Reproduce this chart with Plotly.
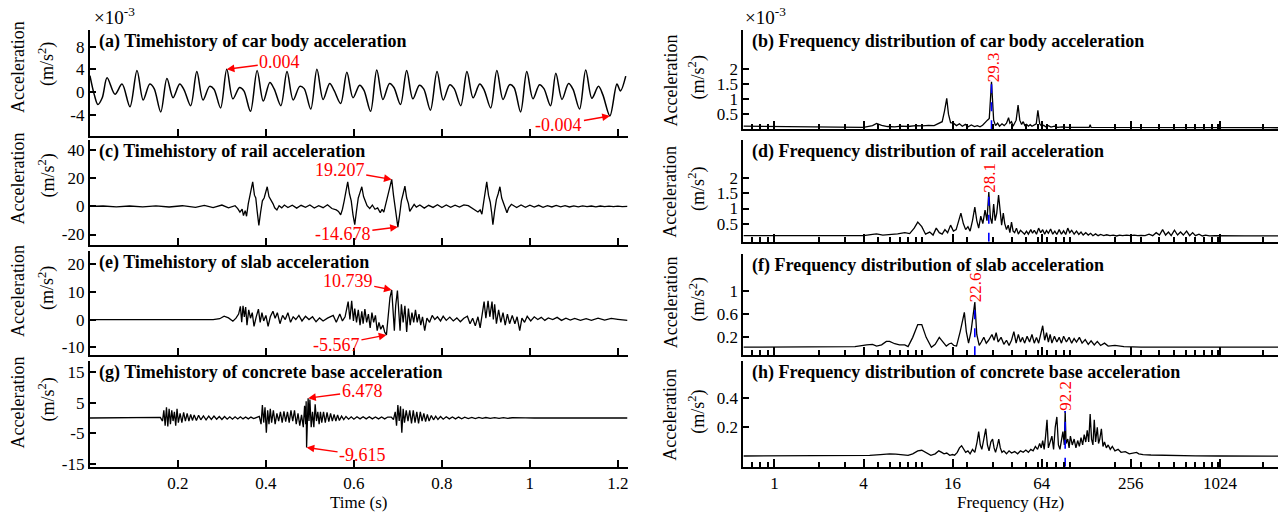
import math
import plotly.graph_objects as go

W, H = 1288, 520
FONT = "Times New Roman, Liberation Serif, Tinos, DejaVu Serif, serif"

# ---------------- data ----------------
# (a) car body acceleration, units of 1e-3 m/s^2
car_time_history = [
    (0.000, 2.9), (0.010, -0.5), (0.018, -2.2), (0.028, -1.0), (0.039, 2.5), (0.057, -0.4), (0.073, 1.4), (0.091, -2.6),
    (0.107, 3.8), (0.121, -1.4), (0.136, 1.4), (0.146, 0.6), (0.161, -3.5),
    (0.175, 2.4), (0.189, -1.0), (0.204, 1.4), (0.214, 0.4), (0.229, -2.4),
    (0.243, 3.6), (0.257, -1.4), (0.272, 1.0), (0.282, 0.5), (0.297, -2.8),
    (0.311, 4.0), (0.325, -1.2), (0.340, 0.8), (0.350, 0.2), (0.365, -3.4),
    (0.380, 3.8), (0.394, -1.6), (0.409, 1.7), (0.419, 0.5), (0.434, -2.4),
    (0.448, 3.6), (0.462, -1.4), (0.477, 1.0), (0.487, 0.6), (0.502, -3.0),
    (0.516, 4.0), (0.530, -1.3), (0.545, 1.5), (0.555, 0.3), (0.570, -2.0),
    (0.584, 3.5), (0.598, -1.0), (0.613, 1.2), (0.623, 0.3), (0.638, -3.4),
    (0.652, 3.9), (0.666, -1.3), (0.681, 1.5), (0.691, 0.8), (0.706, -2.2),
    (0.720, 3.8), (0.734, -1.2), (0.749, 1.2), (0.759, 0.5), (0.774, -3.2),
    (0.789, 3.6), (0.803, -1.4), (0.818, 1.3), (0.828, 0.6), (0.843, -2.4),
    (0.857, 3.6), (0.871, -1.0), (0.886, 1.4), (0.896, 0.4), (0.911, -2.8),
    (0.925, 3.8), (0.939, -1.3), (0.954, 1.3), (0.964, 0.8), (0.979, -3.5),
    (0.993, 3.6), (1.007, -1.2), (1.022, 1.3), (1.032, 0.6), (1.047, -2.4),
    (1.059, 3.3), (1.073, -1.3), (1.088, 1.5), (1.098, 0.5), (1.113, -3.0),
    (1.127, 3.9), (1.141, -1.1), (1.156, 1.0), (1.166, -0.5), (1.182, -4.2), (1.198, 1.4), (1.206, 0.2), (1.218, 2.8),
]

# (c) rail acceleration, m/s^2
rail_time_history = [
    (0.000, 0.0), (0.030, 0.3), (0.060, -0.3), (0.090, 0.3), (0.120, -0.3), (0.150, 0.4), (0.180, -0.4),
    (0.210, 0.5), (0.240, -0.6), (0.260, 0.8), (0.280, -0.8), (0.300, 1.0), (0.315, -1.0),
    (0.330, 0.5), (0.336, -1.5), (0.341, -4.0), (0.346, -2.0), (0.349, -6.5), (0.353, -3.0), (0.356, -7.0),
    (0.360, 2.0), (0.365, 10.0), (0.370, 17.5), (0.374, 8.0), (0.377, 6.0), (0.380, -3.0), (0.384, -13.5),
    (0.388, -4.0), (0.392, 4.0), (0.396, 6.0), (0.400, 12.0), (0.403, 14.0), (0.407, 7.0), (0.411, 5.0),
    (0.416, 2.0), (0.420, -1.0), (0.425, -2.5), (0.430, 0.5), (0.436, -1.0), (0.442, 1.0),
    (0.450, -0.8), (0.460, 0.9), (0.470, -1.2), (0.480, 0.8), (0.490, -0.6), (0.500, 1.0), (0.510, -1.1),
    (0.520, 0.5), (0.530, -0.9), (0.540, 1.2), (0.550, -1.5), (0.560, -2.5),
    (0.565, -3.5), (0.570, -6.0), (0.574, -2.0), (0.578, 4.0), (0.582, 11.0), (0.586, 17.5), (0.590, 9.0),
    (0.594, 4.0), (0.598, -6.0), (0.602, -13.0), (0.606, -3.0), (0.610, 6.0), (0.614, 10.0), (0.618, 14.0),
    (0.622, 7.0), (0.626, 3.0), (0.630, 0.5), (0.636, -1.5), (0.642, 1.0), (0.648, -2.0), (0.654, -1.0),
    (0.660, -4.5), (0.664, -2.0), (0.668, -4.0), (0.672, 1.0), (0.676, 6.0), (0.680, 12.0), (0.686, 19.207),
    (0.690, 8.0), (0.694, -2.0), (0.700, -14.678), (0.704, -6.0), (0.708, 4.0), (0.712, 9.0), (0.716, 14.5),
    (0.720, 6.0), (0.724, 2.0), (0.727, -3.5), (0.732, -1.0), (0.737, 1.5), (0.742, -0.5),
    (0.750, 1.0), (0.760, -1.2), (0.770, 0.8), (0.780, -0.7), (0.790, 1.2), (0.800, -0.8), (0.810, 1.0),
    (0.820, -0.6), (0.830, 0.9), (0.840, -0.5), (0.850, 1.1), (0.860, 0.5), (0.870, -1.5),
    (0.875, -2.0), (0.882, -4.0), (0.887, -2.5), (0.891, -5.5), (0.895, 3.0), (0.899, 10.0), (0.902, 17.5),
    (0.906, 8.0), (0.910, 3.0), (0.913, -4.0), (0.916, -13.0), (0.920, -3.0), (0.924, 5.0), (0.928, 9.0),
    (0.932, 14.0), (0.936, 6.0), (0.940, 2.0), (0.944, -2.0), (0.948, -4.5), (0.952, -1.0), (0.958, 1.5),
    (0.970, -0.8), (0.980, 1.0), (0.990, -0.6), (1.000, 0.9), (1.010, -0.5), (1.020, 0.8), (1.030, -0.6),
    (1.040, 0.6), (1.050, -0.4), (1.060, 0.7), (1.070, -0.3), (1.080, 0.5), (1.090, -0.4), (1.100, 0.4),
    (1.110, -0.3), (1.120, 0.4), (1.130, -0.2), (1.140, 0.3), (1.150, -0.3), (1.160, 0.3), (1.170, -0.2),
    (1.180, 0.2), (1.190, -0.2), (1.200, 0.2), (1.210, -0.1), (1.222, 0.1),
]

# (e) slab acceleration, m/s^2
slab_time_history = [
    (0.000, 0.0), (0.100, 0.0), (0.200, 0.0), (0.280, 0.0), (0.295, 0.3), (0.305, 1.2), (0.315, 0.6),
    (0.325, -0.6), (0.332, 0.5), (0.338, 2.0), (0.342, 4.8), (0.345, -1.0), (0.348, 5.0), (0.351, 1.0),
    (0.354, 4.5), (0.357, -2.0), (0.361, 3.5), (0.365, 0.5), (0.369, 2.5), (0.373, -2.5), (0.378, 1.0),
    (0.383, 3.8), (0.387, -1.0), (0.391, 2.5), (0.395, -0.5), (0.400, 1.5), (0.405, -2.5), (0.410, 1.0),
    (0.416, 3.0), (0.421, 0.5), (0.426, 2.5), (0.432, -1.5), (0.438, 1.5), (0.444, 0.0), (0.450, 2.5),
    (0.456, -1.0), (0.462, 1.0), (0.468, 0.0), (0.475, 1.5), (0.482, -0.5), (0.490, 1.2), (0.498, 0.0),
    (0.506, 1.0), (0.514, -0.8), (0.522, 0.6), (0.530, -0.5), (0.540, 0.5), (0.553, 1.5), (0.560, -1.0),
    (0.568, 2.0), (0.574, -0.5), (0.580, 1.0), (0.587, 6.5), (0.591, 0.0), (0.595, 6.8), (0.599, -0.5),
    (0.602, 4.0), (0.606, -1.0), (0.610, 3.5), (0.614, -2.0), (0.618, 3.0), (0.621, -1.5), (0.625, 3.8),
    (0.629, -1.0), (0.633, 2.0), (0.637, -3.0), (0.641, 2.5), (0.645, -1.0), (0.649, 1.5), (0.653, -4.0),
    (0.657, -1.0), (0.661, -3.5), (0.666, -2.0), (0.670, -4.5), (0.674, -5.567), (0.678, 2.0), (0.682, 8.0),
    (0.686, 10.739), (0.689, 2.0), (0.692, -4.0), (0.695, 5.0), (0.699, 10.5), (0.702, 3.0), (0.705, -4.0),
    (0.708, 5.5), (0.712, -1.0), (0.716, 5.0), (0.720, -4.5), (0.724, 4.0), (0.728, -2.0), (0.732, 2.5),
    (0.736, -1.0), (0.740, 3.5), (0.744, -1.0), (0.748, 2.0), (0.752, -2.0), (0.756, 1.0), (0.761, -4.0),
    (0.766, 0.5), (0.772, -1.0), (0.778, 1.5), (0.784, 0.0), (0.790, 1.0), (0.797, -0.5), (0.803, 1.2),
    (0.810, -0.3), (0.818, 0.9), (0.826, -0.5), (0.834, 0.6), (0.842, -0.8), (0.850, 0.5), (0.858, 1.2),
    (0.864, -1.5), (0.870, 0.5), (0.876, -2.3), (0.882, 1.0), (0.887, -3.0), (0.891, 1.0), (0.896, 6.5),
    (0.900, 0.5), (0.905, 6.8), (0.909, 1.0), (0.914, 6.5), (0.917, 0.0), (0.920, 5.5), (0.924, -1.5),
    (0.929, 3.5), (0.934, -1.0), (0.939, 2.5), (0.944, -2.0), (0.949, 2.0), (0.954, -1.5), (0.960, 1.5),
    (0.966, -1.5), (0.971, 1.0), (0.977, -4.0), (0.982, 0.5), (0.988, -1.0), (0.994, 1.2), (1.002, -0.5),
    (1.010, 1.0), (1.018, 0.0), (1.026, 0.8), (1.034, -0.3), (1.042, 0.6), (1.052, 0.0), (1.062, 0.8),
    (1.072, -0.3), (1.082, 0.5), (1.092, -0.2), (1.102, 0.4), (1.115, -0.3), (1.128, 0.3), (1.140, -0.3),
    (1.155, 0.5), (1.170, -0.2), (1.185, 0.4), (1.200, 0.1), (1.222, -0.3),
]

# (g) concrete base acceleration, m/s^2
base_time_history = [
    (0.000, 0.0), (0.080, 0.0), (0.155, 0.0), (0.160, 0.2), (0.165, -1.0), (0.168, 2.5), (0.171, -2.5),
    (0.174, 3.5), (0.177, -2.8), (0.180, 3.0), (0.183, -2.0), (0.186, 2.5), (0.189, -1.0), (0.192, 2.0),
    (0.195, -2.5), (0.198, 3.0), (0.201, -1.5), (0.205, 1.5), (0.209, -1.5), (0.213, 1.8), (0.217, -1.0),
    (0.221, 1.5), (0.225, -1.0), (0.229, 1.2), (0.233, -0.8), (0.237, 1.0), (0.242, -0.8), (0.247, 0.9),
    (0.252, -0.6), (0.258, 0.7), (0.264, -0.6), (0.270, 0.6), (0.276, -0.5), (0.282, 0.6), (0.288, -0.4),
    (0.294, 0.5), (0.300, -0.5), (0.306, 0.5), (0.312, -0.4), (0.318, 0.4), (0.324, -0.4), (0.330, 0.4),
    (0.336, -0.3), (0.342, 0.4), (0.348, -0.3), (0.354, 0.3), (0.360, -0.3), (0.366, 0.3), (0.372, -0.2),
    (0.378, 0.1), (0.385, 0.5), (0.389, -2.0), (0.392, 4.2), (0.395, -1.5), (0.398, 3.5), (0.401, -4.8),
    (0.404, 2.5), (0.407, -2.0), (0.410, 3.0), (0.413, -1.5), (0.417, 2.5), (0.421, -2.0), (0.425, 1.5),
    (0.429, -1.0), (0.433, 2.0), (0.437, -1.5), (0.441, 2.2), (0.445, -1.2), (0.449, 2.0), (0.453, -1.5),
    (0.457, 2.5), (0.461, -1.0), (0.465, 2.5), (0.469, -2.0), (0.473, 1.5), (0.477, -2.5), (0.481, 1.0),
    (0.485, -3.0), (0.488, 4.0), (0.4905, -2.0), (0.4915, 5.5), (0.4925, -9.615), (0.494, 0.0),
    (0.496, 6.478), (0.498, -1.0), (0.500, 6.0), (0.503, -3.0), (0.506, 2.0), (0.509, -3.0), (0.512, 4.5),
    (0.515, -1.0), (0.518, 2.0), (0.521, -2.0), (0.524, 2.0), (0.527, -1.5), (0.531, 2.0), (0.535, -1.5),
    (0.539, 1.8), (0.543, -1.2), (0.547, 1.5), (0.551, -1.0), (0.555, 1.2), (0.559, -1.0), (0.563, 1.0),
    (0.567, -0.8), (0.572, 0.6), (0.577, -0.5), (0.582, 0.5), (0.588, -0.4), (0.594, 0.4), (0.600, -0.4),
    (0.607, 0.4), (0.614, -0.3), (0.621, 0.4), (0.628, -0.3), (0.635, 0.4), (0.642, -0.3), (0.649, 0.3),
    (0.656, -0.3), (0.663, 0.3), (0.670, -0.3), (0.677, 0.3), (0.685, 0.3), (0.690, -0.5), (0.694, 2.0),
    (0.697, -2.5), (0.700, 4.2), (0.703, -1.0), (0.706, 3.8), (0.709, -4.8), (0.712, 3.0), (0.715, -1.5),
    (0.719, 2.5), (0.723, -1.0), (0.727, 2.5), (0.731, -1.8), (0.735, 2.5), (0.739, -1.5), (0.743, 2.0),
    (0.747, -1.8), (0.751, 2.0), (0.755, -1.0), (0.759, 1.5), (0.763, -1.2), (0.767, 1.2), (0.771, -1.0),
    (0.776, 0.8), (0.781, -0.6), (0.786, 0.6), (0.791, -0.5), (0.797, 0.5), (0.803, -0.4), (0.810, 0.4),
    (0.817, -0.3), (0.824, 0.3), (0.831, -0.3), (0.838, 0.3), (0.845, -0.25), (0.852, 0.25), (0.860, -0.2),
    (0.868, 0.2), (0.876, -0.2), (0.884, 0.2), (0.892, -0.15), (0.900, 0.15), (0.910, -0.15), (0.920, 0.1),
    (0.930, -0.1), (0.940, 0.1), (0.950, -0.1), (0.960, 0.08), (0.975, -0.05), (0.990, 0.05), (1.010, 0.0),
    (1.222, 0.0),
]

# (b) car body spectrum, units of 1e-3 m/s^2
car_spectrum = [
    (0.617, 0.10), (0.8, 0.095), (1.0, 0.09), (1.5, 0.08), (2.0, 0.07), (3.0, 0.06), (4.0, 0.06), (4.6, 0.12),
    (4.9, 0.19), (5.3, 0.13), (5.8, 0.09), (6.5, 0.08), (7.2, 0.10), (8.0, 0.09), (9.0, 0.12), (10.0, 0.11),
    (11.0, 0.13), (12.0, 0.12), (12.8, 0.18), (13.6, 0.25), (14.1, 0.6), (14.6, 1.02), (15.0, 0.5), (15.5, 0.22),
    (16.2, 0.2), (17.0, 0.12), (17.8, 0.18), (18.6, 0.1), (19.5, 0.16), (20.4, 0.08), (21.4, 0.14), (22.5, 0.09),
    (23.5, 0.12), (24.5, 0.08), (25.5, 0.13), (26.5, 0.2), (27.5, 0.3), (28.3, 0.36), (29.3, 1.57), (30.3, 0.3),
    (31.2, 0.12), (32.2, 0.2), (33.2, 0.1), (34.5, 0.18), (35.7, 0.12), (37.0, 0.2), (38.2, 0.38), (39.0, 0.2),
    (40.0, 0.25), (41.0, 0.1), (42.0, 0.18), (43.0, 0.3), (44.3, 0.8), (45.5, 0.3), (46.8, 0.16), (48.0, 0.25),
    (49.2, 0.12), (50.6, 0.16), (52.0, 0.1), (53.5, 0.15), (55.0, 0.1), (57.0, 0.14), (58.8, 0.18), (60.3, 0.63),
    (62.0, 0.18), (64.0, 0.1), (66.0, 0.13), (68.0, 0.08), (71.0, 0.12), (74.0, 0.07), (78.0, 0.1), (82.0, 0.06),
    (88.0, 0.08), (95.0, 0.06), (105.0, 0.07), (120.0, 0.06), (134.0, 0.06), (136.0, 0.15), (138.0, 0.06),
    (160.0, 0.06), (200.0, 0.05), (300.0, 0.05), (500.0, 0.05), (1000.0, 0.05), (2530.0, 0.05),
]

# (d) rail spectrum, m/s^2
rail_spectrum = [
    (0.617, 0.10), (1.0, 0.10), (2.0, 0.09), (3.0, 0.09), (4.0, 0.10), (4.6, 0.14), (4.9, 0.16), (5.4, 0.12),
    (6.0, 0.13), (6.8, 0.16), (7.6, 0.20), (8.2, 0.17), (8.8, 0.35), (9.3, 0.55), (9.9, 0.40), (10.5, 0.15),
    (11.2, 0.22), (11.8, 0.12), (12.4, 0.35), (13.0, 0.20), (13.6, 0.15), (14.2, 0.30), (14.8, 0.20), (15.5, 0.45),
    (16.2, 0.25), (16.9, 0.30), (17.6, 0.60), (18.2, 0.85), (18.9, 0.50), (19.6, 0.30), (20.3, 0.40), (21.0, 0.25),
    (21.8, 0.60), (22.6, 1.05), (23.3, 0.60), (24.0, 0.35), (24.8, 0.75), (25.6, 0.50), (26.5, 0.95), (27.3, 0.60),
    (28.1, 1.55), (28.8, 0.70), (29.5, 0.50), (30.3, 1.15), (31.0, 0.60), (31.8, 0.85), (32.7, 1.45), (33.5, 0.80),
    (34.3, 0.45), (35.2, 0.85), (36.0, 0.50), (37.0, 0.30), (38.0, 0.45), (39.0, 0.20), (40.0, 0.55), (41.0, 0.25),
    (42.0, 0.20), (43.2, 0.35), (44.5, 0.15), (46.0, 0.28), (47.5, 0.20), (49.0, 0.15), (50.5, 0.25), (52.0, 0.15),
    (54.0, 0.30), (55.5, 0.18), (57.0, 0.28), (59.0, 0.15), (61.0, 0.35), (63.0, 0.20), (65.0, 0.30), (67.0, 0.15),
    (69.0, 0.27), (71.0, 0.18), (73.5, 0.32), (76.0, 0.15), (78.5, 0.25), (81.0, 0.14), (84.0, 0.30), (87.0, 0.15),
    (90.0, 0.26), (93.0, 0.14), (96.0, 0.35), (99.0, 0.20), (102.0, 0.28), (106.0, 0.15), (110.0, 0.25),
    (114.0, 0.14), (118.0, 0.22), (122.0, 0.12), (127.0, 0.20), (132.0, 0.12), (137.0, 0.18), (142.0, 0.10),
    (148.0, 0.16), (154.0, 0.10), (160.0, 0.14), (168.0, 0.10), (176.0, 0.13), (185.0, 0.10), (195.0, 0.12),
    (205.0, 0.09), (215.0, 0.12), (225.0, 0.10), (240.0, 0.12), (255.0, 0.10), (270.0, 0.12), (285.0, 0.10),
    (300.0, 0.11), (320.0, 0.10), (340.0, 0.15), (360.0, 0.10), (380.0, 0.20), (400.0, 0.12), (420.0, 0.30),
    (440.0, 0.12), (460.0, 0.22), (480.0, 0.10), (505.0, 0.28), (530.0, 0.12), (555.0, 0.22), (580.0, 0.12),
    (610.0, 0.25), (640.0, 0.10), (670.0, 0.20), (700.0, 0.10), (740.0, 0.15), (780.0, 0.09), (820.0, 0.12),
    (870.0, 0.09), (950.0, 0.10), (1100.0, 0.09), (1500.0, 0.09), (2530.0, 0.09),
]

# (f) slab spectrum, m/s^2
slab_spectrum = [
    (0.617, 0.03), (1.0, 0.03), (2.0, 0.03), (2.75, 0.03), (3.5, 0.04), (4.2, 0.07), (4.6, 0.08), (4.9, 0.05),
    (5.3, 0.07), (5.7, 0.13), (6.0, 0.13), (6.5, 0.09), (7.0, 0.07), (7.6, 0.07), (8.0, 0.04), (8.6, 0.20),
    (9.3, 0.42), (9.9, 0.42), (10.6, 0.20), (11.5, 0.03), (12.2, 0.08), (13.0, 0.20), (13.7, 0.12), (14.5, 0.05),
    (15.2, 0.09), (15.7, 0.10), (16.3, 0.06), (17.0, 0.05), (18.0, 0.30), (19.2, 0.63), (19.8, 0.30), (20.5, 0.10),
    (21.3, 0.30), (22.6, 0.81), (23.3, 0.25), (24.2, 0.06), (25.0, 0.12), (26.0, 0.20), (27.0, 0.10), (28.0, 0.15),
    (29.5, 0.25), (30.5, 0.15), (31.5, 0.28), (32.5, 0.12), (34.0, 0.20), (35.5, 0.08), (37.0, 0.15), (38.5, 0.06),
    (40.0, 0.15), (41.5, 0.30), (43.0, 0.10), (44.5, 0.25), (46.0, 0.12), (47.5, 0.20), (49.0, 0.10), (51.0, 0.22),
    (53.0, 0.12), (55.0, 0.25), (57.0, 0.10), (59.0, 0.20), (61.0, 0.10), (63.0, 0.28), (65.0, 0.40), (67.0, 0.15),
    (69.0, 0.28), (71.0, 0.12), (73.0, 0.25), (75.0, 0.10), (78.0, 0.22), (81.0, 0.12), (84.0, 0.20), (87.0, 0.10),
    (90.0, 0.22), (94.0, 0.12), (98.0, 0.20), (102.0, 0.10), (106.0, 0.18), (110.0, 0.12), (115.0, 0.20),
    (120.0, 0.10), (126.0, 0.16), (132.0, 0.08), (138.0, 0.14), (145.0, 0.07), (152.0, 0.13), (160.0, 0.06),
    (170.0, 0.10), (180.0, 0.05), (200.0, 0.06), (230.0, 0.04), (300.0, 0.03), (500.0, 0.03), (1000.0, 0.03),
    (2530.0, 0.03),
]

# (h) concrete base spectrum, m/s^2
base_spectrum = [
    (0.617, 0.005), (2.0, 0.005), (3.5, 0.008), (4.4, 0.01), (5.2, 0.015), (6.0, 0.02), (6.6, 0.018), (7.3, 0.012),
    (8.0, 0.01), (8.6, 0.02), (9.3, 0.04), (9.9, 0.044), (10.6, 0.03), (11.4, 0.01), (12.2, 0.02), (12.9, 0.04),
    (13.5, 0.03), (14.0, 0.02), (14.6, 0.025), (15.3, 0.01), (16.0, 0.015), (16.5, 0.01), (17.2, 0.03), (17.8, 0.06),
    (18.4, 0.075), (19.0, 0.05), (19.6, 0.03), (20.3, 0.04), (21.0, 0.02), (21.8, 0.05), (22.6, 0.03), (23.4, 0.10),
    (24.0, 0.17), (24.6, 0.08), (25.2, 0.05), (26.0, 0.12), (26.8, 0.19), (27.5, 0.08), (28.2, 0.04), (29.0, 0.10),
    (29.8, 0.12), (30.5, 0.06), (31.2, 0.03), (32.0, 0.07), (32.8, 0.12), (33.6, 0.06), (34.5, 0.03), (35.5, 0.04),
    (37.0, 0.02), (38.5, 0.04), (40.0, 0.025), (42.0, 0.035), (44.0, 0.02), (46.0, 0.04), (48.0, 0.03), (50.0, 0.045),
    (52.0, 0.03), (54.0, 0.05), (56.0, 0.04), (58.0, 0.07), (60.0, 0.05), (62.0, 0.09), (63.5, 0.06), (65.0, 0.11),
    (66.5, 0.05), (68.0, 0.14), (69.5, 0.25), (71.0, 0.06), (73.0, 0.10), (75.0, 0.14), (77.0, 0.05), (79.0, 0.20),
    (81.0, 0.27), (83.0, 0.08), (85.0, 0.05), (87.0, 0.12), (89.0, 0.17), (91.0, 0.08), (92.2, 0.31), (93.5, 0.09),
    (96.0, 0.12), (98.0, 0.06), (100.0, 0.14), (103.0, 0.08), (106.0, 0.12), (109.0, 0.06), (112.0, 0.11),
    (115.0, 0.07), (118.0, 0.13), (121.0, 0.08), (124.0, 0.15), (127.0, 0.10), (130.0, 0.18), (133.0, 0.10),
    (136.0, 0.29), (139.0, 0.12), (142.0, 0.08), (145.0, 0.25), (148.0, 0.10), (152.0, 0.20), (155.0, 0.09),
    (158.0, 0.12), (162.0, 0.19), (166.0, 0.07), (170.0, 0.10), (175.0, 0.06), (180.0, 0.08), (186.0, 0.05),
    (192.0, 0.07), (200.0, 0.04), (210.0, 0.05), (220.0, 0.03), (235.0, 0.035), (250.0, 0.02), (265.0, 0.025),
    (280.0, 0.03), (290.0, 0.02), (310.0, 0.015), (350.0, 0.012), (400.0, 0.01), (500.0, 0.008), (700.0, 0.006),
    (1000.0, 0.005), (2530.0, 0.004),
]

# labelled extremes (time histories) and dominant frequencies (spectra)
peak_labels_time = {
    "a": [(0.311, 4.0, "0.004"), (1.182, -4.2, "-0.004")],
    "c": [(0.686, 19.207, "19.207"), (0.700, -14.678, "-14.678")],
    "e": [(0.686, 10.739, "10.739"), (0.674, -5.567, "-5.567")],
    "g": [(0.496, 6.478, "6.478"), (0.4925, -9.615, "-9.615")],
}
dominant_freq = {"b": (29.3, 1.57), "d": (28.1, 1.55), "f": (22.6, 0.81), "h": (92.2, 0.31)}

titles = {
    "a": "(a) Timehistory of car body acceleration",
    "c": "(c) Timehistory of rail acceleration",
    "e": "(e) Timehistory of slab acceleration",
    "g": "(g) Timehistory of concrete base acceleration",
    "b": "(b) Frequency distribution of car body acceleration",
    "d": "(d) Frequency distribution of rail acceleration",
    "f": "(f) Frequency distribution of slab acceleration",
    "h": "(h) Frequency distribution of concrete base acceleration",
}
time_ticks = [0.2, 0.4, 0.6, 0.8, 1.0, 1.2]
time_ticktext = ["0.2", "0.4", "0.6", "0.8", "1", "1.2"]
freq_ticks = [1, 4, 16, 64, 256, 1024]
freq_minor = [0.7, 0.8, 0.9, 2, 3, 5, 6, 7, 8, 9, 10, 20, 30, 40, 50, 60, 70, 80, 90, 100,
              200, 300, 400, 500, 600, 700, 800, 900, 1000, 2000]
ytick_sets = {
    "a": [-4, 0, 4, 8], "c": [-20, 0, 20, 40], "e": [-10, 0, 10, 20], "g": [-15, -5, 5, 15],
    "b": [0.5, 1, 1.5, 2], "d": [0.5, 1, 1.5, 2], "f": [0.2, 0.6, 1], "h": [0.2, 0.4],
}

# ---------------- layout geometry (pixels) ----------------
def xdom(a, b):
    return [a / W, b / W]

def ydom(top, bot):
    return [1 - bot / H, 1 - top / H]

def px(x):
    return x / W

def py(y):
    return 1 - y / H

LEFT_X = (90, 628)
RIGHT_X = (744, 1279)
panels = {
    # key: (axis index, x px, (top, bottom) px, y range, series, kind)
    "a": (1, LEFT_X, (30, 138), [-7.77, 11.0], car_time_history, "t"),
    "c": (2, LEFT_X, (142, 248), [-27.2, 47.2], rail_time_history, "t"),
    "e": (3, LEFT_X, (254, 360), [-12.9, 25.0], slab_time_history, "t"),
    "g": (4, LEFT_X, (366, 473), [-15.9, 18.6], base_time_history, "t"),
    "b": (5, RIGHT_X, (30, 131), [0.0, 3.3], car_spectrum, "f"),
    "d": (6, RIGHT_X, (142, 245), [-0.1, 3.27], rail_spectrum, "f"),
    "f": (7, RIGHT_X, (257, 360), [-0.107, 1.646], slab_spectrum, "f"),
    "h": (8, RIGHT_X, (366, 473), [-0.067, 0.649], base_spectrum, "f"),
}

fig = go.Figure()
tickfont = dict(family=FONT, size=17, color="black")
layout_axes = {}
annotations = []

for key, (i, xpx, (top, bot), yr, series, kind) in panels.items():
    xs = [p[0] for p in series]
    ys = [p[1] for p in series]
    xa = "x" if i == 1 else f"x{i}"
    ya = "y" if i == 1 else f"y{i}"
    line = dict(color="black", width=1.3)
    if key == "a":
        line = dict(color="black", width=1.5, shape="spline", smoothing=0.9)
    fig.add_trace(go.Scatter(x=xs, y=ys, mode="lines", line=line, xaxis=xa, yaxis=ya,
                             showlegend=False, hoverinfo="skip"))
    bottom = key in ("g", "h")
    if kind == "t":
        xaxis = dict(domain=xdom(*xpx), range=[0, 1.222], tickvals=time_ticks, ticktext=time_ticktext,
                     showticklabels=bottom, ticks="inside", ticklen=7, tickwidth=2, tickcolor="black",
                     showline=True, linecolor="black", linewidth=2, showgrid=False, zeroline=False,
                     anchor=ya, tickfont=tickfont, ticklabelstandoff=0)
    else:
        xaxis = dict(domain=xdom(*xpx), type="log", range=[math.log10(0.617), math.log10(2530)],
                     tickvals=freq_ticks, ticktext=[str(v) for v in freq_ticks],
                     showticklabels=bottom, ticks="inside", ticklen=8, tickwidth=2, tickcolor="black",
                     minor=dict(tickvals=freq_minor, ticks="inside", ticklen=5, tickwidth=1.5, tickcolor="black"),
                     showline=True, linecolor="black", linewidth=2, showgrid=False, zeroline=False,
                     anchor=ya, tickfont=tickfont, ticklabelstandoff=0)
    yt = ytick_sets[key]
    yaxis = dict(domain=ydom(top, bot), range=yr, tickvals=yt, ticktext=[f"{v:g}" for v in yt],
                 ticks="inside", ticklen=6, tickwidth=2, tickcolor="black",
                 showline=True, linecolor="black", linewidth=2, showgrid=False, zeroline=False,
                 anchor=xa, tickfont=tickfont)
    layout_axes["xaxis" if i == 1 else f"xaxis{i}"] = xaxis
    layout_axes["yaxis" if i == 1 else f"yaxis{i}"] = yaxis

    # panel title
    annotations.append(dict(text=f"<b>{titles[key]}</b>", x=px(xpx[0] + 7), y=py(top + 12),
                            xref="paper", yref="paper", xanchor="left", yanchor="middle", showarrow=False,
                            font=dict(family=FONT, size=18, color="black")))

    if kind == "f":
        f0, a0 = dominant_freq[key]
        fig.add_trace(go.Scatter(x=[f0, f0], y=[yr[0], a0], mode="lines",
                                 line=dict(color="#0000ff", width=1.6, dash="dash"),
                                 xaxis=xa, yaxis=ya, showlegend=False, hoverinfo="skip"))

# red arrow annotations for the time histories: (text centre offset in px)
arrow_offsets = {
    "a": [(53, -7), (-51, 9)],
    "c": [(-52, -9), (-55, 7)],
    "e": [(-44, -9), (-50, 10)],
    "g": [(54, -7), (56, 8)],
}
for key, items in peak_labels_time.items():
    i = panels[key][0]
    xa = "x" if i == 1 else f"x{i}"
    ya = "y" if i == 1 else f"y{i}"
    for (tx, vy, label), (ax, ay) in zip(items, arrow_offsets[key]):
        annotations.append(dict(x=tx, y=vy, xref=xa, yref=ya, text=label, showarrow=True,
                                ax=ax, ay=ay, arrowcolor="#ff0000", arrowhead=2, arrowsize=1.1,
                                arrowwidth=1.4, standoff=0, xanchor="center", yanchor="middle",
                                font=dict(family=FONT, size=18, color="#ff0000")))

# red rotated frequency labels
freq_label_pos = {"b": (994, 68), "d": (990, 180), "f": (976, 291), "h": (1066, 401)}
for key, (lx, ly) in freq_label_pos.items():
    annotations.append(dict(text=f"{dominant_freq[key][0]}", x=px(lx), y=py(ly), xref="paper", yref="paper",
                            textangle=-90, showarrow=False, xanchor="center", yanchor="middle",
                            font=dict(family=FONT, size=17, color="#ff0000")))

# y-axis labels
left_label_y = {"a": 68, "c": 181, "e": 295, "g": 408}
right_label_y = {"b": 81, "d": 194, "f": 306, "h": 420}
for centres, x1, x2 in ((left_label_y, 18, 47), (right_label_y, 671, 698)):
    for key, yc in centres.items():
        annotations.append(dict(text="Acceleration", x=px(x1), y=py(yc), xref="paper", yref="paper",
                                textangle=-90, showarrow=False, xanchor="center", yanchor="middle",
                                font=dict(family=FONT, size=18, color="black")))
        annotations.append(dict(text="(m/s<sup>2</sup>)", x=px(x2), y=py(yc - 3), xref="paper", yref="paper",
                                textangle=-90, showarrow=False, xanchor="center", yanchor="middle",
                                font=dict(family=FONT, size=18, color="black")))

# x10^-3 multipliers
for xl in (92, 744):
    annotations.append(dict(text="\u00d710<sup>-3</sup>", x=px(xl), y=py(30), xref="paper", yref="paper",
                            xanchor="left", yanchor="bottom", showarrow=False,
                            font=dict(family=FONT, size=19, color="black")))

# x-axis titles
annotations.append(dict(text="Time (s)", x=px(359), y=0, xref="paper", yref="paper",
                        showarrow=False, xanchor="center", yanchor="bottom", borderpad=0,
                        font=dict(family=FONT, size=17, color="black")))
annotations.append(dict(text="Frequency (Hz)", x=px(1011), y=0, xref="paper", yref="paper",
                        showarrow=False, xanchor="center", yanchor="bottom", borderpad=0,
                        font=dict(family=FONT, size=17, color="black")))

fig.update_layout(width=W, height=H, margin=dict(l=0, r=0, t=0, b=0), paper_bgcolor="white",
                  plot_bgcolor="white", showlegend=False, annotations=annotations,
                  font=dict(family=FONT, size=17, color="black"), **layout_axes)

# remove the browser's default 8px body margin so the figure sits at the page origin
fig.write_html("out.html", config={"displayModeBar": False},
               post_script="document.body.style.margin='0';document.body.style.overflow='hidden';")
